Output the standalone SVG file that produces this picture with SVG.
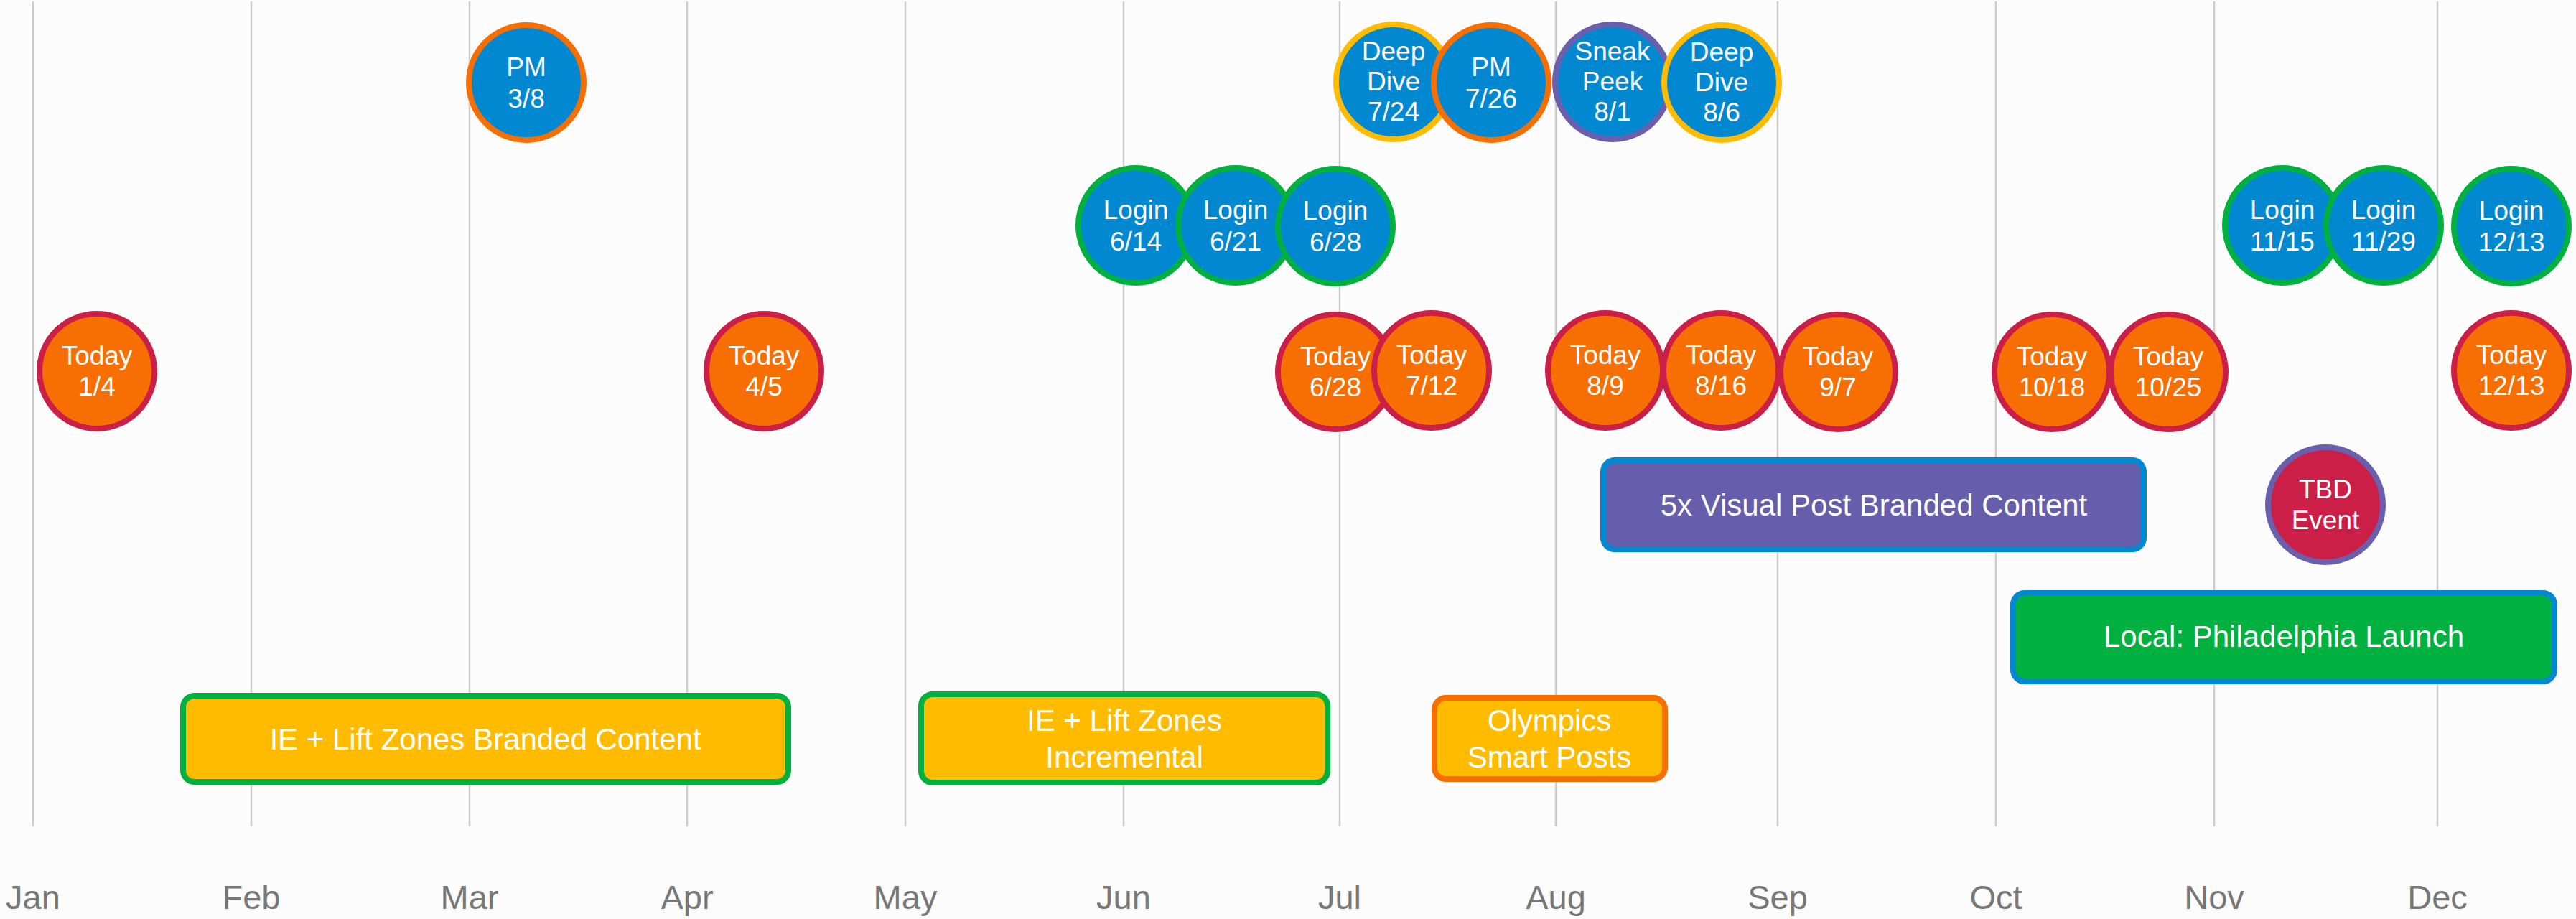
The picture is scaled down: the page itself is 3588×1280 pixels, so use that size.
<svg xmlns="http://www.w3.org/2000/svg" width="3588" height="1280" viewBox="0 0 3588 1280">
<style>
.grid{stroke:#cccccc;stroke-width:2.5}
.month{font-family:"Liberation Sans",Arial,sans-serif;font-size:47px;fill:#777777;text-anchor:middle}
.t{font-family:"Liberation Sans",Arial,sans-serif;font-size:37px;fill:#ffffff;text-anchor:middle}
.bt{font-family:"Liberation Sans",Arial,sans-serif;font-size:42px;fill:#ffffff;text-anchor:middle}
.today{fill:#f76f02;stroke:#cc1f48;stroke-width:8}
.login{fill:#0288d1;stroke:#00b140;stroke-width:8}
.pm{fill:#0288d1;stroke:#f76f02;stroke-width:8}
.dd{fill:#0288d1;stroke:#ffbb00;stroke-width:8}
.sp{fill:#0288d1;stroke:#6a5fad;stroke-width:8}
.tbd{fill:#cc1f48;stroke:#6a5fad;stroke-width:8}
.barY{fill:#ffbb00;stroke:#00b140;stroke-width:8}
.barO{fill:#ffbb00;stroke:#f76f02;stroke-width:8}
.barP{fill:#665eab;stroke:#0288d1;stroke-width:8}
.barG{fill:#00b140;stroke:#0288d1;stroke-width:8}
</style>
<rect x="0" y="0" width="3588" height="1280" fill="#fcfcfc"/>
<g id="axis">
<line class="grid" x1="46" y1="2" x2="46" y2="1151"/>
<line class="grid" x1="350" y1="2" x2="350" y2="1151"/>
<line class="grid" x1="654" y1="2" x2="654" y2="1151"/>
<line class="grid" x1="957" y1="2" x2="957" y2="1151"/>
<line class="grid" x1="1261" y1="2" x2="1261" y2="1151"/>
<line class="grid" x1="1565" y1="2" x2="1565" y2="1151"/>
<line class="grid" x1="1866" y1="2" x2="1866" y2="1151"/>
<line class="grid" x1="2167" y1="2" x2="2167" y2="1151"/>
<line class="grid" x1="2476" y1="2" x2="2476" y2="1151"/>
<line class="grid" x1="2780" y1="2" x2="2780" y2="1151"/>
<line class="grid" x1="3084" y1="2" x2="3084" y2="1151"/>
<line class="grid" x1="3395" y1="2" x2="3395" y2="1151"/>
<text class="month" x="46" y="1266">Jan</text>
<text class="month" x="350" y="1266">Feb</text>
<text class="month" x="654" y="1266">Mar</text>
<text class="month" x="957" y="1266">Apr</text>
<text class="month" x="1261" y="1266">May</text>
<text class="month" x="1565" y="1266">Jun</text>
<text class="month" x="1866" y="1266">Jul</text>
<text class="month" x="2167" y="1266">Aug</text>
<text class="month" x="2476" y="1266">Sep</text>
<text class="month" x="2780" y="1266">Oct</text>
<text class="month" x="3084" y="1266">Nov</text>
<text class="month" x="3395" y="1266">Dec</text>
</g>
<g id="connectors"></g>
<g id="bar-ie-branded"><rect class="barY" x="255" y="969" width="843" height="120" rx="16"/><text class="bt" x="676" y="1044">IE + Lift Zones Branded Content</text></g>
<g id="bar-ie-incremental"><rect class="barY" x="1283" y="967" width="566" height="123" rx="16"/><text class="bt" x="1566" y="1018">IE + Lift Zones</text><text class="bt" x="1566" y="1069">Incremental</text></g>
<g id="bar-olympics"><rect class="barO" x="1998" y="972" width="321" height="113" rx="16"/><text class="bt" x="2158" y="1018">Olympics</text><text class="bt" x="2158" y="1069">Smart Posts</text></g>
<g id="bar-5x-visual"><rect class="barP" x="2233" y="641" width="753" height="124" rx="16"/><text class="bt" x="2610" y="718">5x Visual Post Branded Content</text></g>
<g id="bar-philadelphia"><rect class="barG" x="2804" y="826" width="754" height="123" rx="16"/><text class="bt" x="3181" y="901">Local: Philadelphia Launch</text></g>
<g id="pm-3-8"><circle class="pm" cx="733" cy="115" r="80"/><text class="t" x="733" y="106">PM</text><text class="t" x="733" y="150">3/8</text></g>
<g id="deepdive-7-24"><circle class="dd" cx="1941" cy="114" r="80"/><text class="t" x="1941" y="84">Deep</text><text class="t" x="1941" y="126">Dive</text><text class="t" x="1941" y="168">7/24</text></g>
<g id="pm-7-26"><circle class="pm" cx="2077" cy="115" r="80"/><text class="t" x="2077" y="106">PM</text><text class="t" x="2077" y="150">7/26</text></g>
<g id="sneakpeek-8-1"><circle class="sp" cx="2246" cy="114" r="80"/><text class="t" x="2246" y="84">Sneak</text><text class="t" x="2246" y="126">Peek</text><text class="t" x="2246" y="168">8/1</text></g>
<g id="deepdive-8-6"><circle class="dd" cx="2398" cy="115" r="80"/><text class="t" x="2398" y="85">Deep</text><text class="t" x="2398" y="127">Dive</text><text class="t" x="2398" y="169">8/6</text></g>
<g id="login-6-14"><circle class="login" cx="1582" cy="314" r="80"/><text class="t" x="1582" y="305">Login</text><text class="t" x="1582" y="349">6/14</text></g>
<g id="login-6-21"><circle class="login" cx="1721" cy="314" r="80"/><text class="t" x="1721" y="305">Login</text><text class="t" x="1721" y="349">6/21</text></g>
<g id="login-6-28"><circle class="login" cx="1860" cy="315" r="80"/><text class="t" x="1860" y="306">Login</text><text class="t" x="1860" y="350">6/28</text></g>
<g id="login-11-15"><circle class="login" cx="3179" cy="314" r="80"/><text class="t" x="3179" y="305">Login</text><text class="t" x="3179" y="349">11/15</text></g>
<g id="login-11-29"><circle class="login" cx="3320" cy="314" r="80"/><text class="t" x="3320" y="305">Login</text><text class="t" x="3320" y="349">11/29</text></g>
<g id="login-12-13"><circle class="login" cx="3498" cy="315" r="80"/><text class="t" x="3498" y="306">Login</text><text class="t" x="3498" y="350">12/13</text></g>
<g id="today-1-4"><circle class="today" cx="135" cy="517" r="80"/><text class="t" x="135" y="508">Today</text><text class="t" x="135" y="551">1/4</text></g>
<g id="today-4-5"><circle class="today" cx="1064" cy="517" r="80"/><text class="t" x="1064" y="508">Today</text><text class="t" x="1064" y="551">4/5</text></g>
<g id="today-6-28"><circle class="today" cx="1860" cy="518" r="80"/><text class="t" x="1860" y="509">Today</text><text class="t" x="1860" y="552">6/28</text></g>
<g id="today-7-12"><circle class="today" cx="1994" cy="516" r="80"/><text class="t" x="1994" y="507">Today</text><text class="t" x="1994" y="550">7/12</text></g>
<g id="today-8-9"><circle class="today" cx="2236" cy="516" r="80"/><text class="t" x="2236" y="507">Today</text><text class="t" x="2236" y="550">8/9</text></g>
<g id="today-8-16"><circle class="today" cx="2397" cy="516" r="80"/><text class="t" x="2397" y="507">Today</text><text class="t" x="2397" y="550">8/16</text></g>
<g id="today-9-7"><circle class="today" cx="2560" cy="518" r="80"/><text class="t" x="2560" y="509">Today</text><text class="t" x="2560" y="552">9/7</text></g>
<g id="today-10-18"><circle class="today" cx="2858" cy="518" r="80"/><text class="t" x="2858" y="509">Today</text><text class="t" x="2858" y="552">10/18</text></g>
<g id="today-10-25"><circle class="today" cx="3020" cy="518" r="80"/><text class="t" x="3020" y="509">Today</text><text class="t" x="3020" y="552">10/25</text></g>
<g id="today-12-13"><circle class="today" cx="3498" cy="516" r="80"/><text class="t" x="3498" y="507">Today</text><text class="t" x="3498" y="550">12/13</text></g>
<g id="tbd-event"><circle class="tbd" cx="3239" cy="703" r="80"/><text class="t" x="3239" y="694">TBD</text><text class="t" x="3239" y="737">Event</text></g>
</svg>
